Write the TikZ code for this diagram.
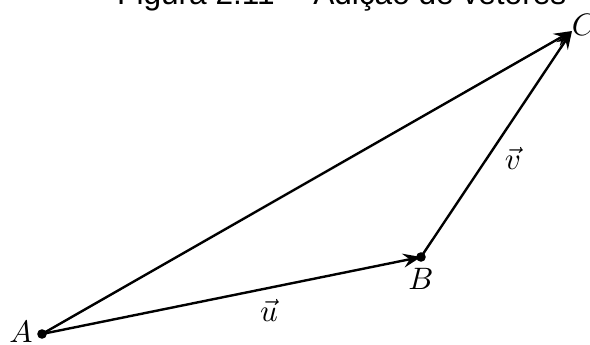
\documentclass[tikz,border=0pt]{standalone}
\usepackage{fontspec}
\newfontfamily\titlefont{Liberation Sans}
\usetikzlibrary{arrows.meta}
\tikzset{
  vec/.style={line width=2.4pt,-{Stealth[length=18pt,width=14pt,inset=6.5pt]}},
  dotpt/.style={fill=black},
  lbl/.style={inner sep=0pt,font=\fontsize{10}{12}\selectfont,scale=3.1},
  ttl/.style={inner sep=0pt,font=\titlefont\fontsize{31.6}{38}\selectfont}
}
\begin{document}
\begin{tikzpicture}[x=1pt,y=1pt]
\useasboundingbox (0,0) rectangle (590,345);
\clip (0,0) rectangle (590,345);
\coordinate (A) at (42,11);
\coordinate (B) at (421,88);
\coordinate (C) at (572,314);
\node[ttl,anchor=base west] (title) at (117,340.5) {Figura 2.11 -- Adição de vetores};
\draw[vec] (A) -- (B);
\draw[vec] (B) -- (C);
\draw[vec] (A) -- (C);
\fill[dotpt] (A) circle (4.8pt);
\fill[dotpt] (B) circle (4.8pt);
\node[lbl] (la) at (21,13) {$A$};
\node[lbl] (lb) at (421,66) {$B$};
\node[lbl] (lc) at (584,320) {$C$};
\node[lbl] (lu) at (269,35) {$\vec{u}$};
\node[lbl] (lv) at (513,187) {$\vec{v}$};
\end{tikzpicture}
\end{document}
